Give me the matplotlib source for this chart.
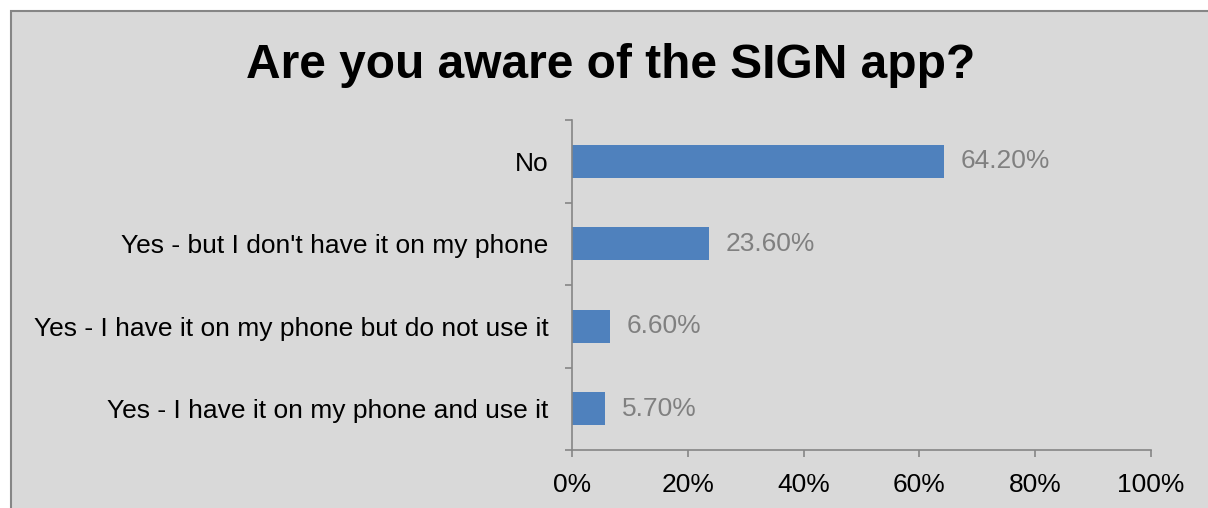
import matplotlib
matplotlib.use('Agg')
import matplotlib.pyplot as plt
import matplotlib.patches as mpatches
import numpy as np

plt.rcParams['font.family'] = ['Liberation Sans', 'DejaVu Sans']

# data
categories = ['No',
              "Yes - but I don't have it on my phone",
              'Yes - I have it on my phone but do not use it',
              'Yes - I have it on my phone and use it']
values = [64.2, 23.6, 6.6, 5.7]
xticks = [0, 20, 40, 60, 80, 100]

W, H = 1208, 508
fig = plt.figure(figsize=(W / 100, H / 100), dpi=100)
fig.patch.set_facecolor('white')

# grey chart area with border (cut off at right/bottom)
bg = mpatches.Rectangle((10.5 / W, -0.1), 1.2, (H - 11.5) / H + 0.1,
                        transform=fig.transFigure, facecolor='#d9d9d9',
                        edgecolor='#868686', linewidth=1.5, zorder=-5)
fig.patches.append(bg)

ax = fig.add_axes([572 / W, (H - 450) / H, (1151 - 572) / W, (450 - 120) / H])
ax.set_facecolor('none')

y = np.arange(len(categories))
ax.barh(y, values, height=0.4, color='#4f81bd', zorder=2)
for yi, v in zip(y, values):
    ax.annotate(f'{v:.2f}%', (v, yi), xytext=(12, 0), textcoords='offset points',
                va='center', ha='left', fontsize=19, color='#808080')

ax.set_xlim(0, 100)
ax.set_ylim(len(categories) - 0.5, -0.5)
ax.set_xticks(xticks)
ax.set_xticklabels([f'{t}%' for t in xticks], fontsize=19)
ax.set_yticks(y)
ax.set_yticklabels(categories, fontsize=19)
ax.set_yticks(np.arange(len(categories) + 1) - 0.5, minor=True)

ax.tick_params(axis='y', which='major', length=0, pad=17)
ax.tick_params(axis='y', which='minor', length=5, width=1.2, color='#868686', direction='out')
ax.tick_params(axis='x', which='major', length=5, width=1.2, color='#868686', direction='out', pad=11.5)

for s in ['top', 'right']:
    ax.spines[s].set_visible(False)
for s in ['left', 'bottom']:
    ax.spines[s].set_color('#868686')
    ax.spines[s].set_linewidth(1.2)

fig.text(611 / W, 1 - 66 / H, 'Are you aware of the SIGN app?', ha='center', va='center',
         fontsize=34.5, fontweight='bold')

plt.savefig('out.png', dpi=100)
plt.close()
